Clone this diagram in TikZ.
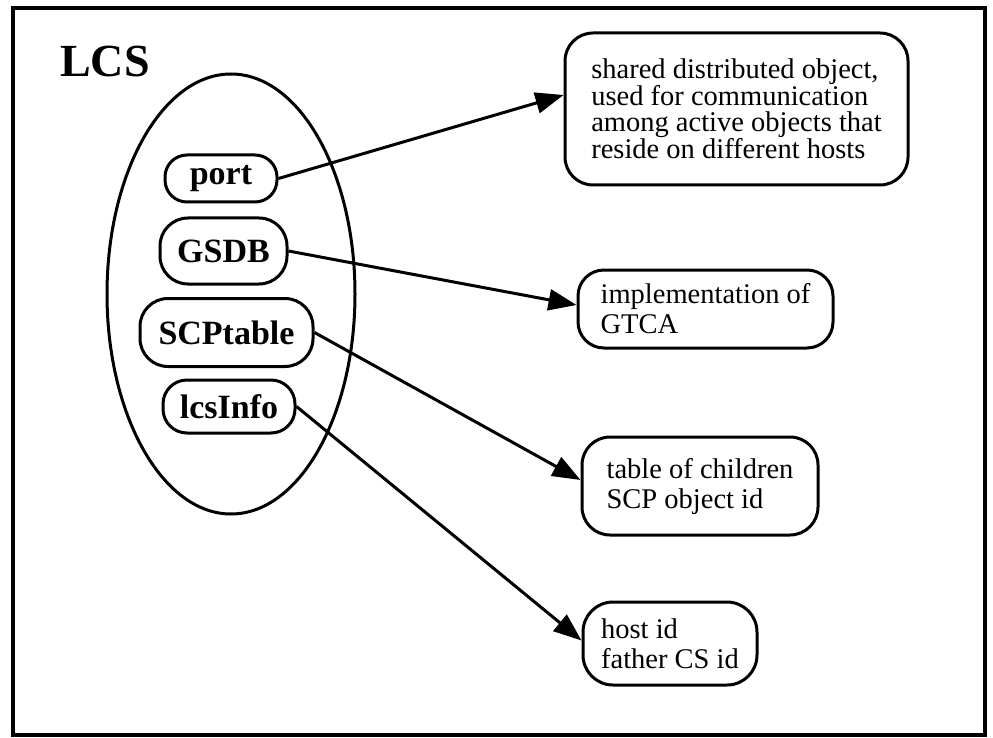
\documentclass[tikz,border=0pt]{standalone}
\usepackage{fontspec}
\setmainfont{Liberation Serif}
\usetikzlibrary{arrows.meta}
\begin{document}
\begin{tikzpicture}[x=1pt,y=-1pt,
  pill/.style={draw, line width=3pt, rounded corners=22pt, font=\fontsize{34}{36}\selectfont\bfseries, inner sep=0pt},
  descbox/.style={draw, line width=3pt, rounded corners=28pt, font=\fontsize{28.5}{30}\selectfont, align=left, inner sep=0pt},
  conn/.style={line width=3pt, -{Triangle[length=28pt,width=21pt]}}]
\useasboundingbox (0,0) rectangle (993,738);
\draw[line width=3.2pt] (13,8) rectangle (985,735);
\node[font=\fontsize{46}{48}\selectfont\bfseries] (lcs) at (105,61) {LCS};
\draw[line width=3pt] (231,294) ellipse [x radius=124pt, y radius=220pt];
\node[pill, minimum width=112pt, minimum height=47pt] (port) at (221,178.5) {port};
\node[pill, minimum width=127pt, minimum height=66pt, rounded corners=28pt] (gsdb) at (223.5,251) {GSDB};
\node[pill, minimum width=173pt, minimum height=68pt, rounded corners=28pt] (scp) at (226.5,332.5) {SCPtable};
\node[pill, minimum width=132pt, minimum height=53pt, rounded corners=24pt] (lcsinfo) at (229,406.5) {lcsInfo};
\node[descbox, minimum width=343pt, minimum height=152pt, font=\fontsize{28.5}{26}\selectfont] (b1) at (736.5,109)
  {shared distributed object,\\used for communication\\among active objects that\\reside on different hosts};
\node[descbox, minimum width=255pt, minimum height=78pt, rounded corners=26pt] (b2) at (705.5,309)
  {implementation of\\GTCA};
\node[descbox, minimum width=236pt, minimum height=98pt] (b3) at (700,486)
  {table of children\\SCP object id};
\node[descbox, minimum width=174pt, minimum height=83pt, rounded corners=30pt] (b4) at (670,643.5)
  {host id\\father CS id};
\draw[conn] (port.east) -- ([yshift=14pt]b1.west);
\draw[conn] (gsdb.east) -- ([yshift=4pt]b2.west);
\draw[conn] (scp.east) -- ([yshift=6pt]b3.west);
\draw[conn] (lcsinfo.east) -- ([yshift=3pt]b4.west);
\end{tikzpicture}
\end{document}
